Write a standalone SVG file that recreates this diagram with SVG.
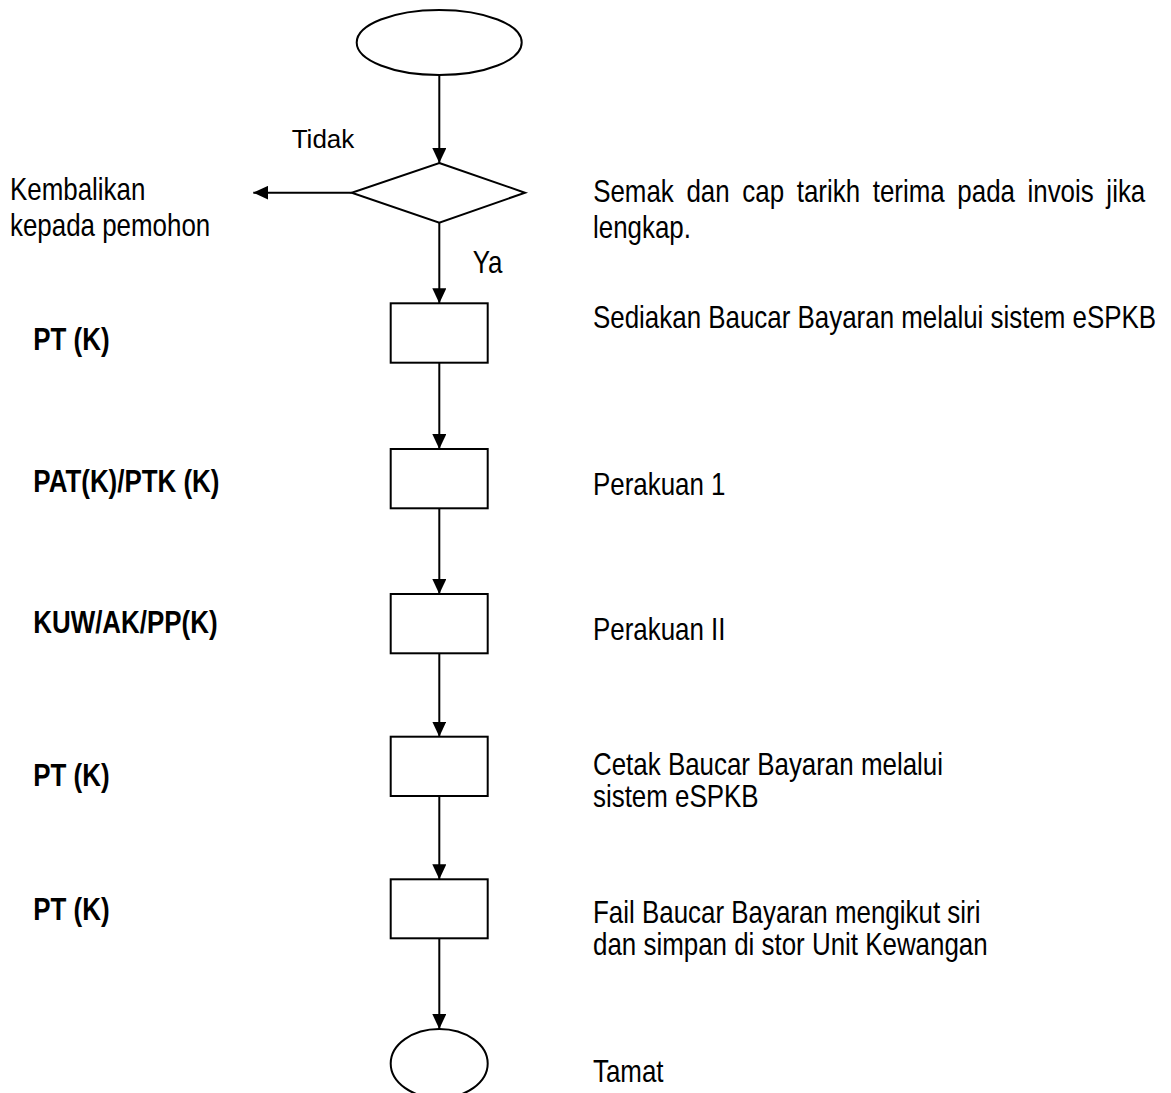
<svg xmlns="http://www.w3.org/2000/svg" width="1171" height="1093" viewBox="0 0 1171 1093">
<style>
.shape{fill:#fff;stroke:#000;stroke-width:2}
.conn{fill:none;stroke:#000;stroke-width:2}
.t{font-family:"Liberation Sans",Arial,sans-serif;font-size:32px;fill:#000}
.b{font-weight:bold}
.s{font-family:"Liberation Sans",Arial,sans-serif;font-size:26px;fill:#000}
</style>
<defs>
<marker id="arr" markerUnits="userSpaceOnUse" markerWidth="15" markerHeight="14" refX="15" refY="7" orient="auto">
<path d="M0,0 L15,7 L0,14 z" fill="#000"/>
</marker>
</defs>
<rect width="1171" height="1093" fill="#fff"/>
<g id="connectors">
<line class="conn" x1="439.3" y1="75" x2="439.3" y2="163" marker-end="url(#arr)"/>
<line class="conn" x1="351.7" y1="192.7" x2="253.3" y2="192.7" marker-end="url(#arr)"/>
<line class="conn" x1="439.3" y1="222.7" x2="439.3" y2="303.3" marker-end="url(#arr)"/>
<line class="conn" x1="439.3" y1="362.7" x2="439.3" y2="449" marker-end="url(#arr)"/>
<line class="conn" x1="439.3" y1="508.3" x2="439.3" y2="594" marker-end="url(#arr)"/>
<line class="conn" x1="439.3" y1="653.3" x2="439.3" y2="736.7" marker-end="url(#arr)"/>
<line class="conn" x1="439.3" y1="796" x2="439.3" y2="879.3" marker-end="url(#arr)"/>
<line class="conn" x1="439.3" y1="938.3" x2="439.3" y2="1029" marker-end="url(#arr)"/>
</g>
<g id="start"><ellipse class="shape" cx="439.2" cy="42.5" rx="82.5" ry="32.5"/></g>
<g id="decision"><polygon class="shape" points="439.3,163 525,192.7 439.3,222.7 351.7,192.7"/></g>
<g id="box1"><rect class="shape" x="390.7" y="303.3" width="97" height="59.4"/></g>
<g id="box2"><rect class="shape" x="390.7" y="449" width="97" height="59.3"/></g>
<g id="box3"><rect class="shape" x="390.7" y="594" width="97" height="59.3"/></g>
<g id="box4"><rect class="shape" x="390.7" y="736.7" width="97" height="59.3"/></g>
<g id="box5"><rect class="shape" x="390.7" y="879.3" width="97" height="59"/></g>
<g id="end"><ellipse class="shape" cx="439.2" cy="1063.5" rx="48.5" ry="34.5"/></g>
<g id="labels">
<text class="s" x="291.7" y="148">Tidak</text>
<g transform="scale(0.81 1)">
<text class="t" x="583.6" y="273.3">Ya</text>
<text class="t" x="12.3" y="200">Kembalikan</text>
<text class="t" x="12.3" y="236">kepada pemohon</text>
<text class="t b" x="41.1" y="350">PT (K)</text>
<text class="t b" x="41.1" y="491.7">PAT(K)/PTK (K)</text>
<text class="t b" x="41.1" y="633.3">KUW/AK/PP(K)</text>
<text class="t b" x="41.1" y="786">PT (K)</text>
<text class="t b" x="41.1" y="920">PT (K)</text>
<text class="t" y="202"><tspan x="732.3">Semak</tspan> <tspan x="847.5">dan</tspan> <tspan x="916.4">cap</tspan> <tspan x="983.6">tarikh</tspan> <tspan x="1077.4">terima</tspan> <tspan x="1181.9">pada</tspan> <tspan x="1268.5">invois</tspan> <tspan x="1365.9">jika</tspan></text>
<text class="t" x="732.1" y="238">lengkap.</text>
<text class="t" x="732.1" y="328">Sediakan Baucar Bayaran melalui sistem eSPKB</text>
<text class="t" x="732.1" y="495">Perakuan 1</text>
<text class="t" x="732.1" y="640">Perakuan II</text>
<text class="t" x="732.1" y="775">Cetak Baucar Bayaran melalui</text>
<text class="t" x="732.1" y="806.7">sistem eSPKB</text>
<text class="t" x="732.1" y="923">Fail Baucar Bayaran mengikut siri</text>
<text class="t" x="732.1" y="955">dan simpan di stor Unit Kewangan</text>
<text class="t" x="732.1" y="1081.7">Tamat</text>
</g>
</g>
</svg>
